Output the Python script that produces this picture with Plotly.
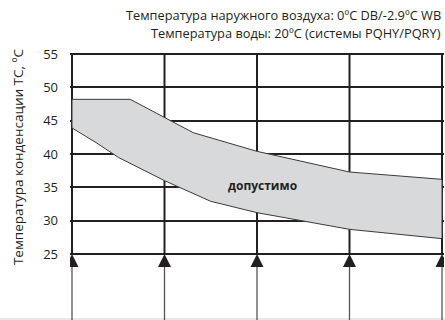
import plotly.graph_objects as go

# chart data
x_grid = [0, 1, 2, 3, 4]
y_ticks = [25, 30, 35, 40, 45, 50, 55]

upper_x = [0, 0.63, 1.31, 2.0, 3.0, 4.0]
upper_y = [48.2, 48.2, 43.2, 40.4, 37.3, 36.2]

lower_x = [0, 0.25, 0.5, 1.0, 1.5, 2.0, 3.0, 4.0]
lower_y = [43.9, 41.8, 39.5, 36.0, 32.9, 31.2, 28.7, 27.3]

title_lines = [
    "Температура наружного воздуха: 0ºC DB/-2.9ºC WB",
    "Температура воды: 20ºC (системы PQHY/PQRY)",
]
y_title = "Температура конденсации TC, ºC"
zone_label = "допустимо"

ink = "#231f20"
band = "#d8d9da"
font_name = "Open Sans"

fig = go.Figure()

# vertical grid lines inside the chart
for xv in x_grid:
    fig.add_trace(go.Scatter(
        x=[xv, xv], y=[y_ticks[0], y_ticks[-1]], mode="lines",
        line=dict(color=ink, width=2), hoverinfo="skip", showlegend=False))

# allowed zone
poly_x = upper_x + lower_x[::-1] + [upper_x[0]]
poly_y = upper_y + lower_y[::-1] + [upper_y[0]]
fig.add_trace(go.Scatter(
    x=poly_x, y=poly_y, mode="lines", fill="toself", fillcolor=band,
    line=dict(color="#3a3a3a", width=1), hoverinfo="skip", showlegend=False))

# stems with arrows below the chart
for xv in x_grid:
    fig.add_trace(go.Scatter(
        x=[xv, xv], y=[10, y_ticks[0] - 1], mode="lines",
        line=dict(color="#555555", width=1.3), hoverinfo="skip", showlegend=False))
fig.add_trace(go.Scatter(
    x=x_grid, y=[y_ticks[0]] * len(x_grid), mode="markers",
    marker=dict(symbol="arrow-up", size=13, color=ink),
    hoverinfo="skip", showlegend=False))

fig.add_annotation(x=2.06, y=35.35, text="<b>" + zone_label + "</b>",
                   showarrow=False, font=dict(family=font_name, size=12, color=ink))

for i, line in enumerate(title_lines):
    fig.add_annotation(xref="paper", yref="paper", x=0.997, y=[1.138, 1.071][i],
                       xanchor="right", yanchor="middle", text=line, showarrow=False,
                       font=dict(family=font_name, size=12.8, color=ink))

fig.add_annotation(xref="paper", yref="paper", x=-0.139, y=0.608,
                   text=y_title, textangle=-90, showarrow=False,
                   xanchor="center", yanchor="middle",
                   font=dict(family=font_name, size=13.5, color=ink))

fig.add_shape(type="rect", xref="paper", yref="paper", x0=-0.2, x1=1.01, y0=0, y1=0.0075,
              fillcolor="#e8e8e8", line=dict(width=0), layer="below")

fig.update_layout(
    width=445, height=320,
    margin=dict(l=70, r=1, t=52, b=0, autoexpand=False),
    paper_bgcolor="white", plot_bgcolor="white",
    font=dict(family=font_name, size=13, color=ink),
    xaxis=dict(range=[-0.0216, 4.0216], showgrid=False, zeroline=False,
               showticklabels=False, ticks=""),
    yaxis=dict(range=[15.1, 55.3], tickvals=y_ticks, showgrid=True,
               gridcolor=ink, gridwidth=2, zeroline=False, ticks="",
               ticklabelstandoff=11, tickfont=dict(family=font_name, size=13, color=ink)),
)

fig.write_html("out.html", config={"displayModeBar": False},
               post_script="document.body.style.margin='0';")
